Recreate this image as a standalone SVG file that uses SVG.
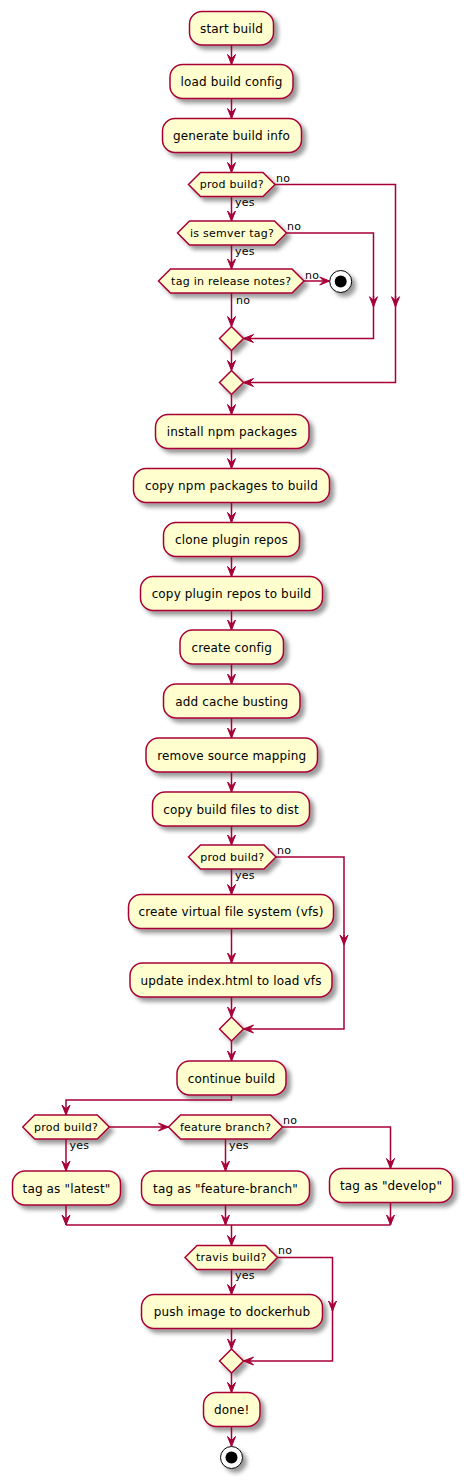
<svg xmlns="http://www.w3.org/2000/svg" width="468" height="1484" viewBox="0 0 468 1484">
<style>
.box{fill:#FEFECE;stroke:#A80036;stroke-width:1.5;filter:url(#sh)}
.t{font-family:"DejaVu Sans","Liberation Sans",sans-serif;font-size:12px;letter-spacing:0.15px;fill:#000;text-anchor:middle}
.ht{font-family:"DejaVu Sans","Liberation Sans",sans-serif;font-size:11px;letter-spacing:0.25px;fill:#000;text-anchor:middle}
.lb{font-family:"DejaVu Sans","Liberation Sans",sans-serif;font-size:11px;letter-spacing:0.2px;fill:#000}
.ln{fill:none;stroke:#A80036;stroke-width:1.5;marker-end:url(#ah)}
.pl{fill:none;stroke:#A80036;stroke-width:1.5}
</style>
<defs>
<filter id="sh" x="-1" y="-1" width="300%" height="300%">
<feGaussianBlur result="b" stdDeviation="2"/>
<feColorMatrix in="b" result="b2" type="matrix" values="0 0 0 0 0 0 0 0 0 0 0 0 0 0 0 0 0 0 .4 0"/>
<feOffset dx="4" dy="4" in="b2" result="b3"/>
<feBlend in="SourceGraphic" in2="b3" mode="normal"/>
</filter>
<marker id="ah" markerUnits="userSpaceOnUse" markerWidth="12" markerHeight="10" refX="10" refY="4" orient="auto" overflow="visible">
<path d="M0,0 L10,4 L0,8 L4,4 Z" fill="#A80036" stroke="#A80036" stroke-width="1"/>
</marker>
</defs>

<g id="start-build"><rect class="box" x="189.5" y="11.5" width="84" height="33.5" rx="12.5"/><text class="t" x="231.5" y="32.5">start build</text></g>
<g id="load-build-config"><rect class="box" x="170" y="64.5" width="123" height="34" rx="12.5"/><text class="t" x="231.5" y="86">load build config</text></g>
<g id="generate-build-info"><rect class="box" x="162.5" y="118.5" width="139" height="34" rx="12.5"/><text class="t" x="231.5" y="140">generate build info</text></g>

<g id="if-prod-1"><polygon class="box" points="188.5,184.5 200.5,172.5 263,172.5 275,184.5 263,196.5 200.5,196.5"/><text class="ht" x="231.75" y="188">prod build?</text></g>
<g id="if-semver"><polygon class="box" points="177.5,233 189.5,221 274.5,221 286.5,233 274.5,245 189.5,245"/><text class="ht" x="232" y="236.5">is semver tag?</text></g>
<g id="if-release-notes"><polygon class="box" points="158.5,281 170.5,269 292,269 304,281 292,293 170.5,293"/><text class="ht" x="231.25" y="284.5">tag in release notes?</text></g>
<g id="stop-1"><circle cx="340.7" cy="281.5" r="11" fill="#FFFFFF" stroke="#000000" stroke-width="1" filter="url(#sh)"/><circle cx="340.7" cy="281.5" r="6" fill="#000000"/></g>
<g id="merge-1"><polygon class="box" points="219.5,338.5 231.5,326.5 243.5,338.5 231.5,350.5"/></g>
<g id="merge-2"><polygon class="box" points="219.5,382.5 231.5,370.5 243.5,382.5 231.5,394.5"/></g>

<g id="install-npm"><rect class="box" x="155.5" y="414.5" width="153.5" height="34" rx="12.5"/><text class="t" x="232" y="436">install npm packages</text></g>
<g id="copy-npm"><rect class="box" x="133.5" y="468.5" width="196" height="34" rx="12.5"/><text class="t" x="231.5" y="490">copy npm packages to build</text></g>
<g id="clone-plugin"><rect class="box" x="163.5" y="522.5" width="136" height="34" rx="12.5"/><text class="t" x="231.5" y="544">clone plugin repos</text></g>
<g id="copy-plugin"><rect class="box" x="140.5" y="576.5" width="182" height="34" rx="12.5"/><text class="t" x="231.5" y="598">copy plugin repos to build</text></g>
<g id="create-config"><rect class="box" x="180" y="630" width="103.5" height="34" rx="12.5"/><text class="t" x="231.75" y="651.5">create config</text></g>
<g id="cache-busting"><rect class="box" x="163.5" y="684" width="136.5" height="34" rx="12.5"/><text class="t" x="231.75" y="705.5">add cache busting</text></g>
<g id="remove-source-mapping"><rect class="box" x="146" y="738" width="171.5" height="34" rx="12.5"/><text class="t" x="231.75" y="759.5">remove source mapping</text></g>
<g id="copy-build-files"><rect class="box" x="152.5" y="792" width="157" height="34" rx="12.5"/><text class="t" x="231" y="813.5">copy build files to dist</text></g>

<g id="if-prod-2"><polygon class="box" points="188.5,857 200.5,845 264,845 276,857 264,869 200.5,869"/><text class="ht" x="232.25" y="860.5">prod build?</text></g>
<g id="create-vfs"><rect class="box" x="128.5" y="894.5" width="205" height="34" rx="12.5"/><text class="t" x="231" y="916">create virtual file system (vfs)</text></g>
<g id="update-index"><rect class="box" x="130" y="963" width="202" height="34" rx="12.5"/><text class="t" x="231" y="984.5">update index.html to load vfs</text></g>
<g id="merge-3"><polygon class="box" points="219.5,1029 231.5,1017 243.5,1029 231.5,1041"/></g>

<g id="continue-build"><rect class="box" x="177" y="1061" width="109" height="34" rx="12.5"/><text class="t" x="231.5" y="1082.5">continue build</text></g>
<g id="if-prod-3"><polygon class="box" points="22.75,1127 34.75,1115 97.25,1115 109.25,1127 97.25,1139 34.75,1139"/><text class="ht" x="66" y="1130.5">prod build?</text></g>
<g id="if-feature"><polygon class="box" points="168.5,1127 180.5,1115 270.5,1115 282.5,1127 270.5,1139 180.5,1139"/><text class="ht" x="225.5" y="1130.5">feature branch?</text></g>
<g id="tag-latest"><rect class="box" x="12.5" y="1171" width="108" height="34" rx="12.5"/><text class="t" x="66.5" y="1192.5">tag as "latest"</text></g>
<g id="tag-feature"><rect class="box" x="141.5" y="1171" width="168" height="34" rx="12.5"/><text class="t" x="225.5" y="1192.5">tag as "feature-branch"</text></g>
<g id="tag-develop"><rect class="box" x="329.5" y="1168.5" width="123" height="34" rx="12.5"/><text class="t" x="391" y="1190">tag as "develop"</text></g>

<g id="if-travis"><polygon class="box" points="185,1257.5 197,1245.5 265.5,1245.5 277.5,1257.5 265.5,1269.5 197,1269.5"/><text class="ht" x="231.25" y="1261">travis build?</text></g>
<g id="push-image"><rect class="box" x="141.5" y="1294.5" width="181" height="34" rx="12.5"/><text class="t" x="232" y="1316">push image to dockerhub</text></g>
<g id="merge-4"><polygon class="box" points="219.5,1361 231.5,1349 243.5,1361 231.5,1373"/></g>
<g id="done"><rect class="box" x="203.5" y="1392.5" width="56.5" height="34" rx="12.5"/><text class="t" x="231.75" y="1414">done!</text></g>
<g id="stop-2"><circle cx="231.5" cy="1457.5" r="11" fill="#FFFFFF" stroke="#000000" stroke-width="1" filter="url(#sh)"/><circle cx="231.5" cy="1457.5" r="6" fill="#000000"/></g>

<g id="connectors">
<path class="ln" d="M231.5,45 V64.5"/>
<path class="ln" d="M231.5,98.5 V118.5"/>
<path class="ln" d="M231.5,152.5 V172.5"/>
<path class="ln" d="M231.5,196.5 V221"/>
<text class="lb" x="235" y="206">yes</text>
<path class="pl" d="M275,184.5 H395.5 V306.7"/>
<path class="ln" d="M395.5,296 V306.7"/>
<path class="ln" d="M395.5,306.7 V382.5 H243.5"/>
<text class="lb" x="276" y="181.5">no</text>
<path class="ln" d="M231.5,245 V269"/>
<text class="lb" x="235" y="254.5">yes</text>
<path class="pl" d="M286.5,233 H373.5 V306.7"/>
<path class="ln" d="M373.5,296 V306.7"/>
<path class="ln" d="M373.5,306.7 V338.5 H243.5"/>
<text class="lb" x="287" y="230">no</text>
<path class="ln" d="M304,281 H329.7"/>
<text class="lb" x="305" y="278.5">no</text>
<path class="ln" d="M231.5,293 V326.5"/>
<text class="lb" x="236" y="304">no</text>
<path class="ln" d="M231.5,350.5 V370.5"/>
<path class="ln" d="M231.5,394.5 V414.5"/>
<path class="ln" d="M231.5,448.5 V468.5"/>
<path class="ln" d="M231.5,502.5 V522.5"/>
<path class="ln" d="M231.5,556.5 V576.5"/>
<path class="ln" d="M231.5,610.5 V630"/>
<path class="ln" d="M231.5,664 V684"/>
<path class="ln" d="M231.5,718 V738"/>
<path class="ln" d="M231.5,772 V792"/>
<path class="ln" d="M231.5,826 V845"/>
<path class="ln" d="M231.5,869 V894.5"/>
<text class="lb" x="235" y="878.5">yes</text>
<path class="pl" d="M276,857 H344 V945"/>
<path class="ln" d="M344,935 V945"/>
<path class="ln" d="M344,945 V1029 H243.5"/>
<text class="lb" x="277" y="853.5">no</text>
<path class="ln" d="M231.5,928.5 V963"/>
<path class="ln" d="M231.5,997 V1017"/>
<path class="ln" d="M231.5,1041 V1061"/>
<path class="ln" d="M231.5,1095 V1100 H66 V1115"/>
<path class="ln" d="M109.25,1127 H168.5"/>
<path class="ln" d="M66,1139 V1171"/>
<text class="lb" x="69.5" y="1148.5">yes</text>
<path class="ln" d="M225.5,1139 V1171"/>
<text class="lb" x="229" y="1148.5">yes</text>
<path class="ln" d="M282.5,1127 H390.5 V1168.5"/>
<text class="lb" x="283" y="1123.5">no</text>
<path class="ln" d="M66,1205 V1225"/>
<path class="ln" d="M225.5,1205 V1225"/>
<path class="ln" d="M390.5,1202.5 V1225"/>
<path class="pl" d="M66,1225 H390.5"/>
<path class="ln" d="M231.5,1225 V1245.5"/>
<path class="ln" d="M231.5,1269.5 V1294.5"/>
<text class="lb" x="235" y="1279">yes</text>
<path class="pl" d="M277.5,1257.5 H332.5 V1311"/>
<path class="ln" d="M332.5,1300 V1311"/>
<path class="ln" d="M332.5,1311 V1361 H243.5"/>
<text class="lb" x="278" y="1254">no</text>
<path class="ln" d="M231.5,1328.5 V1349"/>
<path class="ln" d="M231.5,1373 V1392.5"/>
<path class="ln" d="M231.5,1426.5 V1446.5"/>
</g>
</svg>
